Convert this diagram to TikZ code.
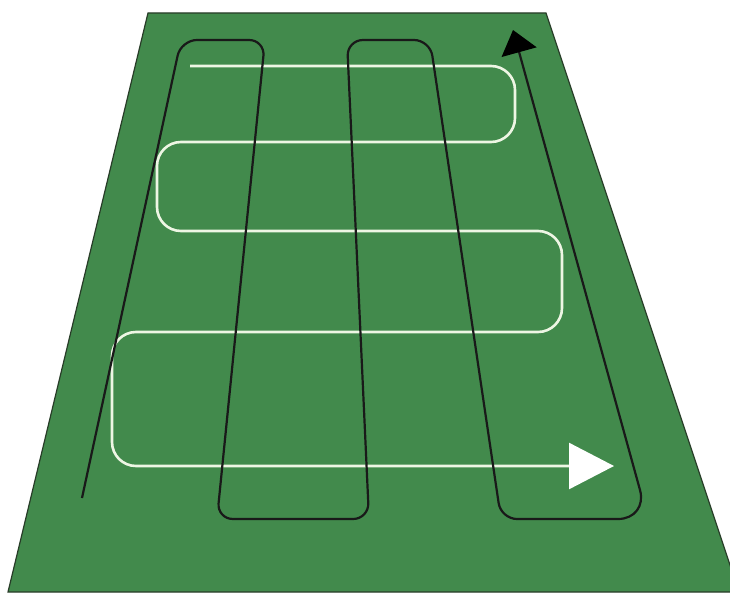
\documentclass[tikz,border=0pt]{standalone}
\usetikzlibrary{arrows.meta}
\definecolor{fieldgreen}{RGB}{66,138,76}
\definecolor{edgedark}{RGB}{40,60,40}
\definecolor{lanewhite}{RGB}{238,246,228}
\tikzset{
  field/.style={fill=fieldgreen, draw=edgedark, line width=1.2pt, line join=miter},
  blackpath/.style={draw=black!90, line width=2.2pt},
  whitepath/.style={draw=lanewhite, line width=2.6pt},
}
\begin{document}
\begin{tikzpicture}[x=1pt,y=-1pt]
\useasboundingbox (0,0) rectangle (730,594);
\clip (0,0) rectangle (730,594);
% field
\path[field] (148,13) -- (546,13) -- (739,592) -- (8,592) -- cycle;
% named corner coordinates of the black route
\coordinate (b0) at (82,498);
\coordinate (b1) at (181,40);
\coordinate (b2) at (265,40);
\coordinate (b3) at (217,519);
\coordinate (b4) at (369,519);
\coordinate (b5) at (347,40);
\coordinate (b6) at (430,40);
\coordinate (b7) at (501,519);
\coordinate (b8) at (648,519);
\coordinate (b9) at (513,30);
% white route
\coordinate (w0) at (190,66);
\coordinate (w1) at (515,66);
\coordinate (w2) at (515,142);
\coordinate (w3) at (157,142);
\coordinate (w4) at (157,231);
\coordinate (w5) at (562,231);
\coordinate (w6) at (562,332);
\coordinate (w7) at (112,332);
\coordinate (w8) at (112,466);
\coordinate (w9) at (614,466);
% white serpentine
\draw[whitepath, rounded corners=24pt, -{Triangle[length=45pt,width=46pt,fill=white,color=white]}]
  (w0) -- (w1) -- (w2) -- (w3) -- (w4) -- (w5) -- (w6) -- (w7) -- (w8) -- (w9);
% black serpentine
\draw[blackpath, -{Triangle[length=23pt,width=36pt,fill=black,color=black]}]
  (b0) [rounded corners=16pt] -- (b1) -- (b2) -- (b3) -- (b4) -- (b5) -- (b6) -- (b7)
  [rounded corners=30pt] -- (b8) [sharp corners] -- (b9);
\end{tikzpicture}
\end{document}
